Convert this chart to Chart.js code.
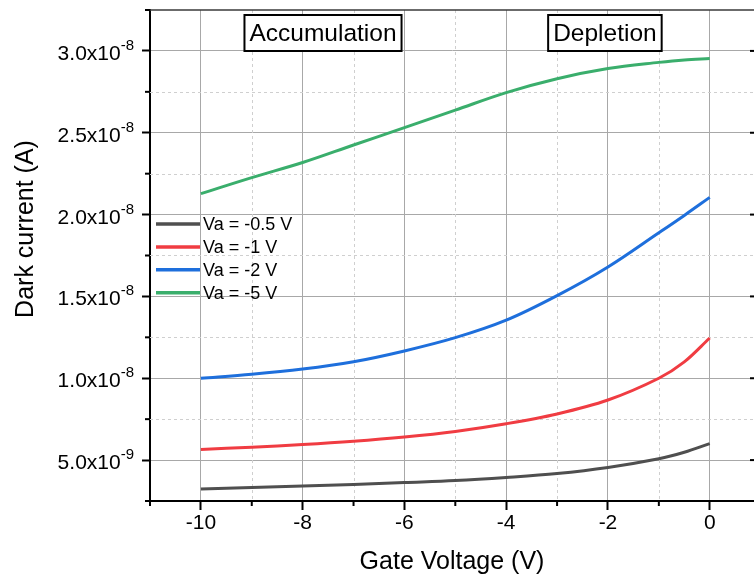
<!DOCTYPE html>
<html>
<head>
<meta charset="utf-8">
<script src="https://cdn.jsdelivr.net/npm/chart.js@4"></script>
<style>
  html, body { margin: 0; padding: 0; background: #ffffff; overflow: hidden; }
  #wrap { width: 754px; height: 580px; }
</style>
</head>
<body>
<div id="wrap"><canvas id="chart" width="754" height="580"></canvas></div>
<script>
// Gate voltage sweep (V)
const gateVoltage = [-10, -9, -8, -7, -6, -5, -4, -3, -2, -1, -0.5, 0];

// Dark current (A) for each anode bias
const currentVa05 = [3.23e-9, 3.33e-9, 3.42e-9, 3.51e-9, 3.63e-9, 3.75e-9, 3.94e-9, 4.18e-9, 4.55e-9, 5.08e-9, 5.48e-9, 6.01e-9];
const currentVa1  = [5.65e-9, 5.79e-9, 5.95e-9, 6.15e-9, 6.41e-9, 6.75e-9, 7.22e-9, 7.82e-9, 8.67e-9, 1.0e-8, 1.1e-8, 1.246e-8];
const currentVa2  = [1.0e-8, 1.024e-8, 1.056e-8, 1.101e-8, 1.167e-8, 1.248e-8, 1.355e-8, 1.505e-8, 1.680e-8, 1.889e-8, 1.995e-8, 2.105e-8];
const currentVa5  = [2.128e-8, 2.226e-8, 2.318e-8, 2.425e-8, 2.531e-8, 2.638e-8, 2.745e-8, 2.830e-8, 2.892e-8, 2.930e-8, 2.945e-8, 2.953e-8];

const seriesLabels = ['Va = -0.5 V', 'Va = -1 V', 'Va = -2 V', 'Va = -5 V'];
const seriesColors = ['#4f4f4f', '#f03c42', '#1e6fdc', '#3aae6c'];

// Axis ticks
const xMajorTicks = [-10, -8, -6, -4, -2, 0];
const xMinorTicks = [-11, -9, -7, -5, -3, -1];
const yMajorTicks = [5e-9, 1e-8, 1.5e-8, 2e-8, 2.5e-8, 3e-8];
const yMinorTicks = [2.5e-9, 7.5e-9, 1.25e-8, 1.75e-8, 2.25e-8, 2.75e-8, 3.25e-8];
const yTickMantissa = ['5.0', '1.0', '1.5', '2.0', '2.5', '3.0'];
const yTickExponent = ['-9', '-8', '-8', '-8', '-8', '-8'];

// Region annotations: text and centre gate voltage
const regionLabels = ['Accumulation', 'Depletion'];
const regionCenters = [-7.6, -2.06];

const FONT = '"Liberation Sans", Arial, Helvetica, sans-serif';

const datasets = [currentVa05, currentVa1, currentVa2, currentVa5].map((vals, i) => ({
  label: seriesLabels[i],
  data: gateVoltage.map((x, j) => ({ x: x, y: vals[j] })),
  borderColor: seriesColors[i],
  backgroundColor: seriesColors[i],
  borderWidth: 3,
  pointRadius: 0,
  tension: 0.35,
  fill: false
}));

// Minor dashed grid, minor ticks, right-side ticks, top frame line, labels
const framePlugin = {
  id: 'frame',
  beforeDatasetsDraw(chart) {
    const { ctx, chartArea: a, scales: { x, y } } = chart;
    ctx.save();
    ctx.strokeStyle = '#cfcfcf';
    ctx.lineWidth = 1;
    ctx.setLineDash([3, 3]);
    xMinorTicks.forEach(v => {
      const px = Math.round(x.getPixelForValue(v)) + 0.5;
      if (px <= a.left + 2) return;
      ctx.beginPath(); ctx.moveTo(px, a.top); ctx.lineTo(px, a.bottom); ctx.stroke();
    });
    yMinorTicks.forEach(v => {
      const py = Math.round(y.getPixelForValue(v)) + 0.5;
      if (py <= a.top + 2 || py >= a.bottom - 2) return;
      ctx.beginPath(); ctx.moveTo(a.left, py); ctx.lineTo(a.right, py); ctx.stroke();
    });
    ctx.restore();
  },
  afterDraw(chart) {
    const { ctx, chartArea: a, scales: { x, y } } = chart;
    ctx.save();
    // top frame
    ctx.strokeStyle = '#3a3a3a';
    ctx.lineWidth = 1.5;
    ctx.beginPath(); ctx.moveTo(a.left, a.top); ctx.lineTo(a.right, a.top); ctx.stroke();
    // minor ticks
    ctx.strokeStyle = '#000';
    ctx.lineWidth = 2;
    xMinorTicks.forEach(v => {
      const px = x.getPixelForValue(v);
      ctx.beginPath(); ctx.moveTo(px, a.bottom); ctx.lineTo(px, a.bottom + 5); ctx.stroke();
    });
    yMinorTicks.forEach(v => {
      const py = y.getPixelForValue(v);
      ctx.beginPath(); ctx.moveTo(a.left, py); ctx.lineTo(a.left - 5, py); ctx.stroke();
    });
    // inward ticks on the right edge
    yMajorTicks.forEach(v => {
      const py = y.getPixelForValue(v);
      ctx.beginPath(); ctx.moveTo(a.right, py); ctx.lineTo(a.right - 4, py); ctx.stroke();
    });

    // y tick labels with superscript exponents
    ctx.fillStyle = '#000';
    yMajorTicks.forEach((v, i) => {
      const py = y.getPixelForValue(v);
      const base = yTickMantissa[i] + 'x10';
      const exp = yTickExponent[i];
      ctx.font = '15px ' + FONT;
      const we = ctx.measureText(exp).width;
      ctx.font = '21px ' + FONT;
      const wb = ctx.measureText(base).width;
      const right = a.left - 16;
      ctx.textBaseline = 'alphabetic';
      ctx.textAlign = 'left';
      ctx.fillText(base, right - we - wb, py + 9);
      ctx.font = '15px ' + FONT;
      ctx.fillText(exp, right - we, py - 1);
    });

    // y axis title
    ctx.save();
    ctx.translate(26, 229);
    ctx.rotate(-Math.PI / 2);
    ctx.font = '25px ' + FONT;
    ctx.textAlign = 'center';
    ctx.textBaseline = 'middle';
    ctx.fillText('Dark current (A)', 0, 0);
    ctx.restore();

    // region labels in boxes
    ctx.font = '24.5px ' + FONT;
    ctx.textAlign = 'center';
    ctx.textBaseline = 'middle';
    regionLabels.forEach((t, i) => {
      const cx = x.getPixelForValue(regionCenters[i]);
      const cy = a.top + 23;
      const w = ctx.measureText(t).width + 10;
      const h = 36;
      ctx.fillStyle = '#fff';
      ctx.fillRect(cx - w / 2, cy - h / 2, w, h);
      ctx.strokeStyle = '#000';
      ctx.lineWidth = 2;
      ctx.strokeRect(cx - w / 2, cy - h / 2, w, h);
      ctx.fillStyle = '#000';
      ctx.fillText(t, cx, cy + 1);
    });

    // legend
    ctx.font = '18px ' + FONT;
    ctx.textAlign = 'left';
    ctx.textBaseline = 'middle';
    chart.data.datasets.forEach((ds, i) => {
      const ly = 224 + i * 22.9;
      ctx.strokeStyle = ds.borderColor;
      ctx.lineWidth = 3.5;
      ctx.beginPath(); ctx.moveTo(a.left + 6, ly); ctx.lineTo(a.left + 50, ly); ctx.stroke();
      ctx.fillStyle = '#000';
      ctx.fillText(ds.label, a.left + 53, ly + 1);
    });
    ctx.restore();
  }
};

new Chart(document.getElementById('chart'), {
  type: 'line',
  data: { datasets: datasets },
  plugins: [framePlugin],
  options: {
    responsive: false,
    animation: false,
    layout: { padding: { top: 10, left: 0, right: 0, bottom: 0 } },
    plugins: { legend: { display: false }, tooltip: { enabled: false } },
    scales: {
      x: {
        type: 'linear',
        min: -11,
        max: 0.87,
        afterBuildTicks: s => { s.ticks = xMajorTicks.map(v => ({ value: v })); },
        afterFit: s => { s.height = 79; },
        grid: { color: '#a8a8a8', lineWidth: 1, tickColor: '#000', tickWidth: 2, tickLength: 9 },
        border: { display: true, color: '#000', width: 2 },
        ticks: { color: '#000', font: { family: FONT, size: 21 }, padding: 1, maxRotation: 0 },
        title: { display: true, text: 'Gate Voltage (V)', color: '#000', font: { family: FONT, size: 25 }, padding: { top: 0, bottom: 3 } }
      },
      y: {
        type: 'linear',
        min: 2.5e-9,
        max: 3.25e-8,
        afterBuildTicks: s => { s.ticks = yMajorTicks.map(v => ({ value: v })); },
        afterFit: s => { s.width = 150; },
        grid: { color: '#a8a8a8', lineWidth: 1, tickColor: '#000', tickWidth: 2, tickLength: 8 },
        border: { display: true, color: '#000', width: 2 },
        ticks: { display: false }
      }
    }
  }
});
</script>
</body>
</html>
